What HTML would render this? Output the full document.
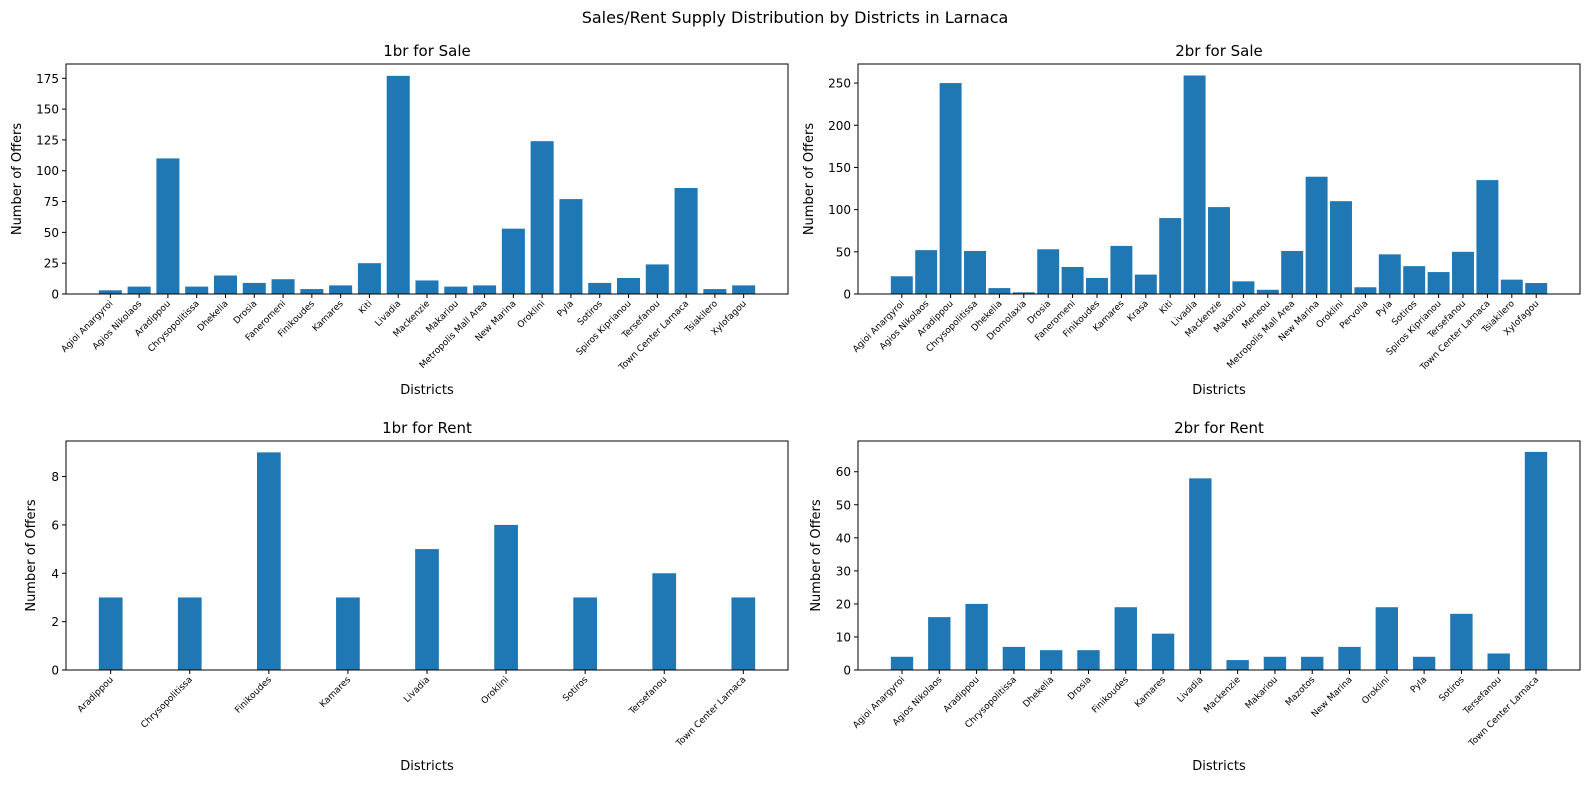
<!DOCTYPE html>
<html><head><meta charset="utf-8"><style>
body{margin:0;background:#fff;font-family:"Liberation Sans","DejaVu Sans",sans-serif;}
svg text{font-family:"DejaVu Sans","Liberation Sans",sans-serif;}
</style></head><body>
<svg id="c" width="1589" height="789" xmlns="http://www.w3.org/2000/svg">
<text x="795" y="23" text-anchor="middle" font-size="16">Sales/Rent Supply Distribution by Districts in Larnaca</text>
</svg>
<script>
const cats1 = ["Agioi Anargyroi","Agios Nikolaos","Aradippou","Chrysopolitissa","Dhekelia","Drosia","Faneromeni","Finikoudes","Kamares","Kiti","Livadia","Mackenzie","Makariou","Metropolis Mall Area","New Marina","Oroklini","Pyla","Sotiros","Spiros Kiprianou","Tersefanou","Town Center Larnaca","Tsiakilero","Xylofagou"];
const vals1 = [3,6,110,6,15,9,12,4,7,25,177,11,6,7,53,124,77,9,13,24,86,4,7];
const cats2 = ["Agioi Anargyroi","Agios Nikolaos","Aradippou","Chrysopolitissa","Dhekelia","Dromolaxia","Drosia","Faneromeni","Finikoudes","Kamares","Krasa","Kiti","Livadia","Mackenzie","Makariou","Meneou","Metropolis Mall Area","New Marina","Oroklini","Pervolia","Pyla","Sotiros","Spiros Kiprianou","Tersefanou","Town Center Larnaca","Tsiakilero","Xylofagou"];
const vals2 = [21,52,250,51,7,2,53,32,19,57,23,90,259,103,15,5,51,139,110,8,47,33,26,50,135,17,13];
const cats3 = ["Aradippou","Chrysopolitissa","Finikoudes","Kamares","Livadia","Oroklini","Sotiros","Tersefanou","Town Center Larnaca"];
const vals3 = [3,3,9,3,5,6,3,4,3];
const cats4 = ["Agioi Anargyroi","Agios Nikolaos","Aradippou","Chrysopolitissa","Dhekelia","Drosia","Finikoudes","Kamares","Livadia","Mackenzie","Makariou","Mazotos","New Marina","Oroklini","Pyla","Sotiros","Tersefanou","Town Center Larnaca"];
const vals4 = [4,16,20,7,6,6,19,11,58,3,4,4,7,19,4,17,5,66];
const ticks1 = [0,25,50,75,100,125,150,175];
const ticks2 = [0,50,100,150,200,250];
const ticks3 = [0,2,4,6,8];
const ticks4 = [0,10,20,30,40,50,60];

const svg=document.getElementById('c');
const NS='http://www.w3.org/2000/svg';
function mk(tag,attrs,parent){const e=document.createElementNS(NS,tag);for(const k in attrs)e.setAttribute(k,attrs[k]);(parent||svg).appendChild(e);return e;}

function panel(name,title,cats,vals,ticks,box,ymax,bw){
  const [L,T,R,B]=box;
  const n=cats.length;
  const span=n-1+bw;
  const xmin=-bw/2-0.05*span, xmax=n-1+bw/2+0.05*span;
  const g=mk('g',{});
  
  
  const xs=v=>L+(v-xmin)/(xmax-xmin)*(R-L);
  const ys=v=>B-v/ymax*(B-T);
  vals.forEach((v,i)=>{
    const x0=xs(i-bw/2),x1=xs(i+bw/2);
    const r=mk('rect',{x:x0,y:ys(v),width:x1-x0,height:B-ys(v),fill:'#1f77b4'},g);
    
    
  });
  mk('rect',{x:L,y:T,width:R-L,height:B-T,fill:'none',stroke:'#000','stroke-width':1},g);
  ticks.forEach(t=>{
    const y=ys(t);
    mk('line',{x1:L-4,x2:L,y1:y,y2:y,stroke:'#000'},g);
    const tx=mk('text',{x:L-7,y:y+4.5,'text-anchor':'end','font-size':12},g);
    tx.textContent=t;
    
    
  });
  cats.forEach((c,i)=>{
    const x=xs(i);
    mk('line',{x1:x,x2:x,y1:B,y2:B+4,stroke:'#000'},g);
    const tx=mk('text',{x:x+3,y:B+10,'text-anchor':'end','font-size':9,transform:`rotate(-45 ${x+3} ${B+10})`},g);
    tx.textContent=c;
    
    
  });
  const tt=mk('text',{x:(L+R)/2,y:T-8,'text-anchor':'middle','font-size':15},g);
  tt.textContent=title;
  
  
  const xl=mk('text',{x:(L+R)/2,y:B+100,'text-anchor':'middle','font-size':13},g);
  xl.textContent='Districts';
  
  
  const yx=L-(String(ticks[ticks.length-1]).length*7+24);
  const yl=mk('text',{x:yx,y:(T+B)/2,'text-anchor':'middle','font-size':13,transform:`rotate(-90 ${yx} ${(T+B)/2})`},g);
  yl.textContent='Number of Offers';
  
  
}
panel('panel-1br-sale','1br for Sale',cats1,vals1,ticks1,[66,64,788,294],186.6,0.8);
panel('panel-2br-sale','2br for Sale',cats2,vals2,ticks2,[858,64,1580,294],272.6,0.9);
panel('panel-1br-rent','1br for Rent',cats3,vals3,ticks3,[66,441,788,670],9.47,0.3);
panel('panel-2br-rent','2br for Rent',cats4,vals4,ticks4,[858,441,1580,670],69.3,0.6);
</script>
</body></html>
